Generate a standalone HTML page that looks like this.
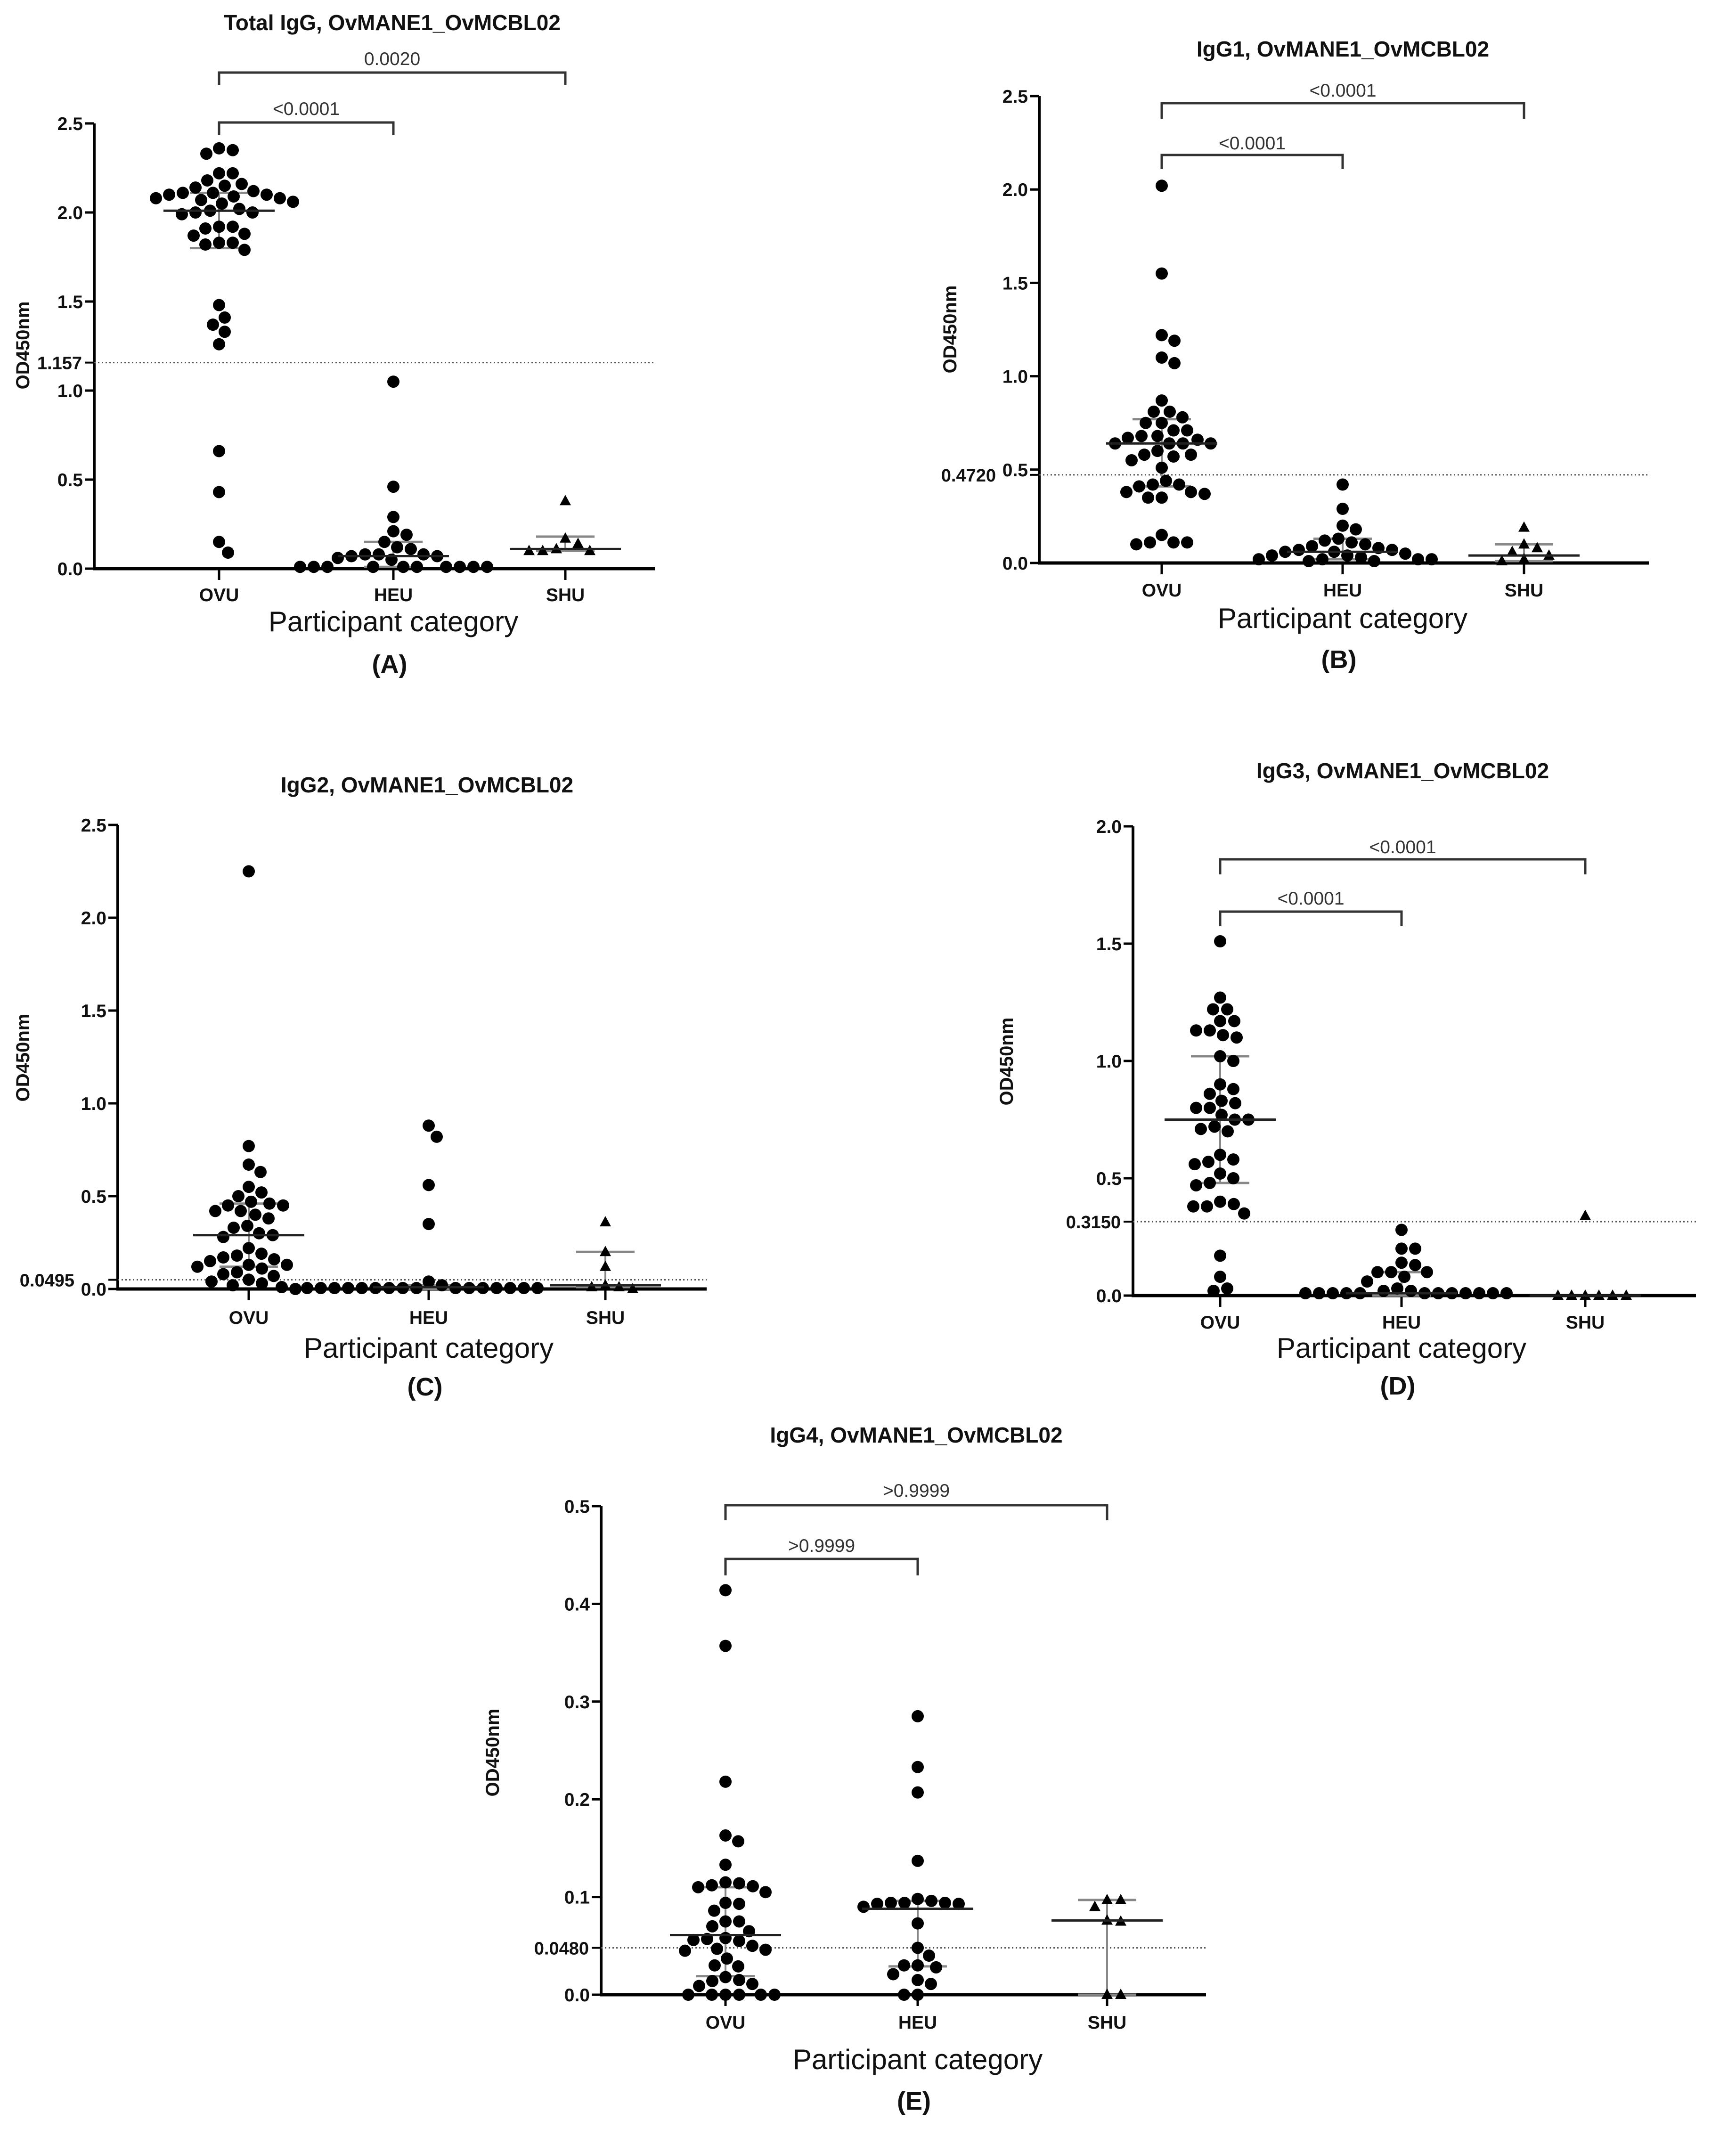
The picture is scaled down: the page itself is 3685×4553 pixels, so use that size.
<!DOCTYPE html>
<html><head><meta charset="utf-8">
<style>
html,body{margin:0;padding:0;background:#fff;}
svg{display:block;font-family:"Liberation Sans",Arial,sans-serif;}
</style></head>
<body>
<svg id="fig" xmlns="http://www.w3.org/2000/svg" width="3685" height="4553" viewBox="0 0 3685 4553">
<rect x="0" y="0" width="3685" height="4553" fill="#fff"/>
</svg>
<script>
// ---------- data ----------
const categories = ["OVU","HEU","SHU"];
const titles = ["Total IgG, OvMANE1_OvMCBL02","IgG1, OvMANE1_OvMCBL02","IgG2, OvMANE1_OvMCBL02","IgG3, OvMANE1_OvMCBL02","IgG4, OvMANE1_OvMCBL02"];
const panelLetters = ["(A)","(B)","(C)","(D)","(E)"];
const cutoffs = [1.157, 0.4720, 0.0495, 0.3150, 0.0480];
const cutoffLabels = ["1.157","0.4720","0.0495","0.3150","0.0480"];
const ticksA = [0,0.5,1.0,1.5,2.0,2.5];
const ticksB = [0,0.5,1.0,1.5,2.0,2.5];
const ticksC = [0,0.5,1.0,1.5,2.0,2.5];
const ticksD = [0,0.5,1.0,1.5,2.0];
const ticksE = [0,0.1,0.2,0.3,0.4,0.5];
const pA = ["<0.0001","0.0020"];
const pB = ["<0.0001","<0.0001"];
const pD = ["<0.0001","<0.0001"];
const pE = [">0.9999",">0.9999"];

const A_OVU = [2.36,2.35,2.33,2.22,2.22,2.18,2.16,2.15,2.14,2.12,2.11,2.11,2.10,2.10,2.09,2.08,2.08,2.07,2.06,2.05,2.02,2.01,2.00,2.00,1.99,1.92,1.92,1.91,1.88,1.87,1.83,1.83,1.82,1.79,1.48,1.41,1.37,1.33,1.26,0.66,0.43,0.15,0.09];
const A_HEU = [1.05,0.46,0.29,0.21,0.19,0.15,0.12,0.11,0.08,0.08,0.08,0.07,0.07,0.06,0.05,0.01,0.01,0.01,0.01,0.01,0.01,0.01,0.01,0.01,0.01];
const A_SHU = [0.38,0.17,0.14,0.11,0.10,0.10,0.10];
const A_median = [2.01,0.07,0.11];
const A_q1 = [1.80,0.01,0.10];
const A_q3 = [2.11,0.15,0.18];

const B_OVU = [2.02,1.55,1.22,1.19,1.10,1.07,0.87,0.81,0.81,0.78,0.75,0.75,0.71,0.71,0.68,0.68,0.67,0.66,0.64,0.64,0.64,0.64,0.60,0.58,0.58,0.57,0.55,0.51,0.44,0.42,0.42,0.41,0.38,0.38,0.37,0.35,0.35,0.15,0.11,0.11,0.11,0.10];
const B_HEU = [0.42,0.29,0.20,0.18,0.13,0.12,0.11,0.10,0.09,0.08,0.07,0.07,0.06,0.06,0.05,0.04,0.04,0.03,0.02,0.02,0.02,0.02,0.01,0.01];
const B_SHU = [0.19,0.10,0.08,0.06,0.04,0.02,0.01];
const B_median = [0.64,0.06,0.04];
const B_q1 = [0.41,0.02,0.01];
const B_q3 = [0.77,0.13,0.10];

const C_OVU = [2.25,0.77,0.67,0.63,0.55,0.52,0.50,0.47,0.46,0.45,0.45,0.42,0.42,0.40,0.38,0.34,0.33,0.30,0.29,0.28,0.22,0.19,0.18,0.17,0.16,0.15,0.13,0.13,0.12,0.11,0.09,0.08,0.07,0.05,0.04,0.03,0.02,0.01,0.0];
const C_HEU = [0.88,0.82,0.56,0.35,0.04,0.02,0.005,0.005,0.005,0.005,0.005,0.005,0.005,0.005,0.005,0.005,0.005,0.005,0.005,0.005,0.005,0.005];
const C_SHU = [0.36,0.20,0.12,0.02,0.01,0.01,0.0];
const C_median = [0.29,0.01,0.02];
const C_q1 = [0.12,0.0,0.01];
const C_q3 = [0.46,0.02,0.20];

const D_OVU = [1.51,1.27,1.22,1.22,1.17,1.17,1.13,1.13,1.11,1.10,1.02,1.00,0.90,0.88,0.86,0.83,0.82,0.80,0.80,0.77,0.75,0.75,0.72,0.71,0.70,0.60,0.58,0.57,0.56,0.52,0.50,0.48,0.47,0.40,0.39,0.38,0.38,0.35,0.17,0.08,0.03,0.02];
const D_HEU = [0.28,0.20,0.20,0.14,0.13,0.10,0.10,0.10,0.08,0.06,0.03,0.02,0.02,0.01,0.01,0.01,0.01,0.01,0.01,0.01,0.01,0.01,0.01,0.01,0.01];
const D_SHU = [0.34,0,0,0,0,0,0];
const D_median = [0.75,0.01,0.0];
const D_q1 = [0.48,0.0,0.0];
const D_q3 = [1.02,0.10,0.0];

const E_OVU = [0.414,0.357,0.218,0.163,0.157,0.133,0.115,0.114,0.112,0.111,0.110,0.105,0.094,0.093,0.086,0.075,0.075,0.070,0.065,0.058,0.057,0.056,0.055,0.050,0.047,0.046,0.045,0.037,0.030,0.029,0.018,0.015,0.014,0.011,0.009,0,0,0,0,0,0];
const E_HEU = [0.285,0.233,0.207,0.137,0.098,0.096,0.094,0.094,0.094,0.093,0.093,0.090,0.073,0.048,0.040,0.030,0.030,0.028,0.021,0.015,0.011,0,0];
const E_SHU = [0.097,0.097,0.090,0.076,0.075,0,0];
const E_median = [0.061,0.088,0.076];
const E_q1 = [0.019,0.029,0.0];
const E_q3 = [0.110,0.096,0.097];

// ---------- layout (positions only) ----------
const NS = "http://www.w3.org/2000/svg";
const svg = document.getElementById("fig");
function mk(tag, attrs, parent, text){
  const e = document.createElementNS(NS, tag);
  for (const k in attrs) e.setAttribute(k, attrs[k]);
  if (text !== undefined) e.textContent = text;
  (parent || svg).appendChild(e);
  return e;
}

const panels = [
  {id:"a", groups:[A_OVU,A_HEU,A_SHU], med:A_median, q1:A_q1, q3:A_q3, ticks:ticksA, p:pA,
   ax:200, axEnd:1390, y0:1207, yTop:262, vmax:2.5, cx:[465,835,1200], cutOff:26,
   titleY:64, b1:[260,287,231], b2:[154,180,125], catY:1276, partY:1340, letY:1428, odX:62, odY:733},
  {id:"b", groups:[B_OVU,B_HEU,B_SHU], med:B_median, q1:B_q1, q3:B_q3, ticks:ticksB, p:pB,
   ax:2206, axEnd:3500, y0:1195, yTop:204, vmax:2.5, cx:[2466,2850,3235], cutOff:92,
   titleY:120, b1:[329,359,304], b2:[219,252,192], catY:1266, partY:1333, letY:1418, odX:2030, odY:699},
  {id:"c", groups:[C_OVU,C_HEU,C_SHU], med:C_median, q1:C_q1, q3:C_q3, ticks:ticksC, p:null,
   ax:250, axEnd:1500, y0:2736, yTop:1751, vmax:2.5, cx:[528,910,1285], cutOff:92,
   titleY:1682, catY:2810, partY:2882, letY:2962, odX:62, odY:2245},
  {id:"d", groups:[D_OVU,D_HEU,D_SHU], med:D_median, q1:D_q1, q3:D_q3, ticks:ticksD, p:pD,
   ax:2405, axEnd:3600, y0:2750, yTop:1754, vmax:2.0, cx:[2590,2975,3365], cutOff:26,
   titleY:1652, b1:[1935,1966,1907], b2:[1824,1856,1798], catY:2820, partY:2882, letY:2960, odX:2150, odY:2253},
  {id:"e", groups:[E_OVU,E_HEU,E_SHU], med:E_median, q1:E_q1, q3:E_q3, ticks:ticksE, p:pE,
   ax:1276, axEnd:2560, y0:4234, yTop:3197, vmax:0.5, cx:[1540,1948,2350], cutOff:26,
   titleY:3062, b1:[3309,3344,3281], b2:[3195,3227,3164], catY:4306, partY:4392, letY:4478, odX:1059, odY:3720}
];

const R = 13;
function swarm(vals, cx, yf){
  const pts = [];
  const sorted = vals.slice().sort((a,b)=>b-a);
  const minD = 2*R + 3;
  for (const v of sorted){
    const y = yf(v);
    let placed = null;
    for (let s=0; s<400 && !placed; s++){
      const offs = s===0 ? [0] : [s,-s];
      for (const o of offs){
        const x = cx + o;
        let ok = true;
        for (const p of pts){ const dx=p.x-x, dy=p.y-y; if (dx*dx+dy*dy < minD*minD){ok=false;break;} }
        if (ok){ placed={x,y,v}; break; }
      }
    }
    pts.push(placed || {x:cx,y,v});
  }
  return pts;
}

panels.forEach((P, pi) => {
  const g = mk("g", {});
  
  
  const yScale = v => P.y0 - (v / P.vmax) * (P.y0 - P.yTop);

  const mid = (P.cx[0] + P.cx[2]) / 2;
  const t = mk("text", {x:mid, y:P.titleY, "text-anchor":"middle", "font-size":46, "font-weight":"bold", fill:"#111"}, g, titles[pi]);
  
  

  const yAx = mk("line", {x1:P.ax, y1:P.yTop, x2:P.ax, y2:P.y0+3, stroke:"#000", "stroke-width":6}, g);
  
  
  const xAx = mk("line", {x1:P.ax-3, y1:P.y0, x2:P.axEnd, y2:P.y0, stroke:"#000", "stroke-width":7}, g);
  
  

  P.ticks.forEach(tv => {
    const y = yScale(tv);
    const tk = mk("line", {x1:P.ax-20, y1:y, x2:P.ax, y2:y, stroke:"#000", "stroke-width":5}, g);
    
    
    const lb = mk("text", {x:P.ax-24, y:y+14, "text-anchor":"end", "font-size":39, "font-weight":"bold", fill:"#111"}, g, tv.toFixed(1));
    
    
  });

  const od = mk("text", {x:P.odX, y:P.odY, "text-anchor":"middle", "font-size":40, "font-weight":"bold", fill:"#111", transform:"rotate(-90 "+P.odX+" "+P.odY+")"}, g, "OD450nm");
  
  

  const cy = yScale(cutoffs[pi]);
  const cl = mk("line", {x1:P.ax, y1:cy, x2:P.axEnd, y2:cy, stroke:"#555", "stroke-width":3, "stroke-dasharray":"3,5"}, g);
  
  
  const ctk = mk("line", {x1:P.ax-20, y1:cy, x2:P.ax, y2:cy, stroke:"#000", "stroke-width":4}, g);
  
  
  const clb = mk("text", {x:P.ax-P.cutOff, y:cy+14, "text-anchor":"end", "font-size":38, "font-weight":"bold", fill:"#111"}, g, cutoffLabels[pi]);
  
  

  categories.forEach((c, ci) => {
    const x = P.cx[ci];
    const tk = mk("line", {x1:x, y1:P.y0, x2:x, y2:P.y0+24, stroke:"#000", "stroke-width":5}, g);
    
    
    const lb = mk("text", {x:x, y:P.catY, "text-anchor":"middle", "font-size":39, "font-weight":"bold", fill:"#111"}, g, c);
    
    

    const q1y = yScale(P.q1[ci]), q3y = yScale(P.q3[ci]), my = yScale(P.med[ci]);
    const vl = mk("line", {x1:x, y1:q1y, x2:x, y2:q3y, stroke:"#888", "stroke-width":4}, g);
    
    
    [q1y, q3y].forEach(qy => {
      const ql = mk("line", {x1:x-62, y1:qy, x2:x+62, y2:qy, stroke:"#888", "stroke-width":5}, g);
      
      
    });

    const pts = swarm(P.groups[ci], x, yScale);
    pts.forEach(p => {
      let m;
      if (ci === 2) {
        m = mk("polygon", {points:(p.x)+","+(p.y-13)+" "+(p.x-12)+","+(p.y+9)+" "+(p.x+12)+","+(p.y+9), fill:"#000"}, g);
      } else {
        m = mk("circle", {cx:p.x, cy:p.y, r:R, fill:"#000"}, g);
      }
      
      
    });

    const ml = mk("line", {x1:x-118, y1:my, x2:x+118, y2:my, stroke:"#222", "stroke-width":5}, g);
    
    
  });

  if (P.p) {
    const br = [[P.cx[0], P.cx[1], P.b1, P.p[0]], [P.cx[0], P.cx[2], P.b2, P.p[1]]];
    br.forEach((b) => {
      const [xa, xb, yy, lab] = b;
      const pl = mk("polyline", {points:xa+","+yy[1]+" "+xa+","+yy[0]+" "+xb+","+yy[0]+" "+xb+","+yy[1], fill:"none", stroke:"#333", "stroke-width":5}, g);
      
      
      const tl = mk("text", {x:(xa+xb)/2, y:yy[2]+13, "text-anchor":"middle", "font-size":39, fill:"#333"}, g, lab);
      
      
    });
  }

  const xt = mk("text", {x:P.cx[1], y:P.partY, "text-anchor":"middle", "font-size":60, fill:"#111"}, g, "Participant category");
  
  
  const lt = mk("text", {x:P.cx[1]-8, y:P.letY, "text-anchor":"middle", "font-size":54, "font-weight":"bold", fill:"#111"}, g, panelLetters[pi]);
  
  
});
</script>
</body></html>
